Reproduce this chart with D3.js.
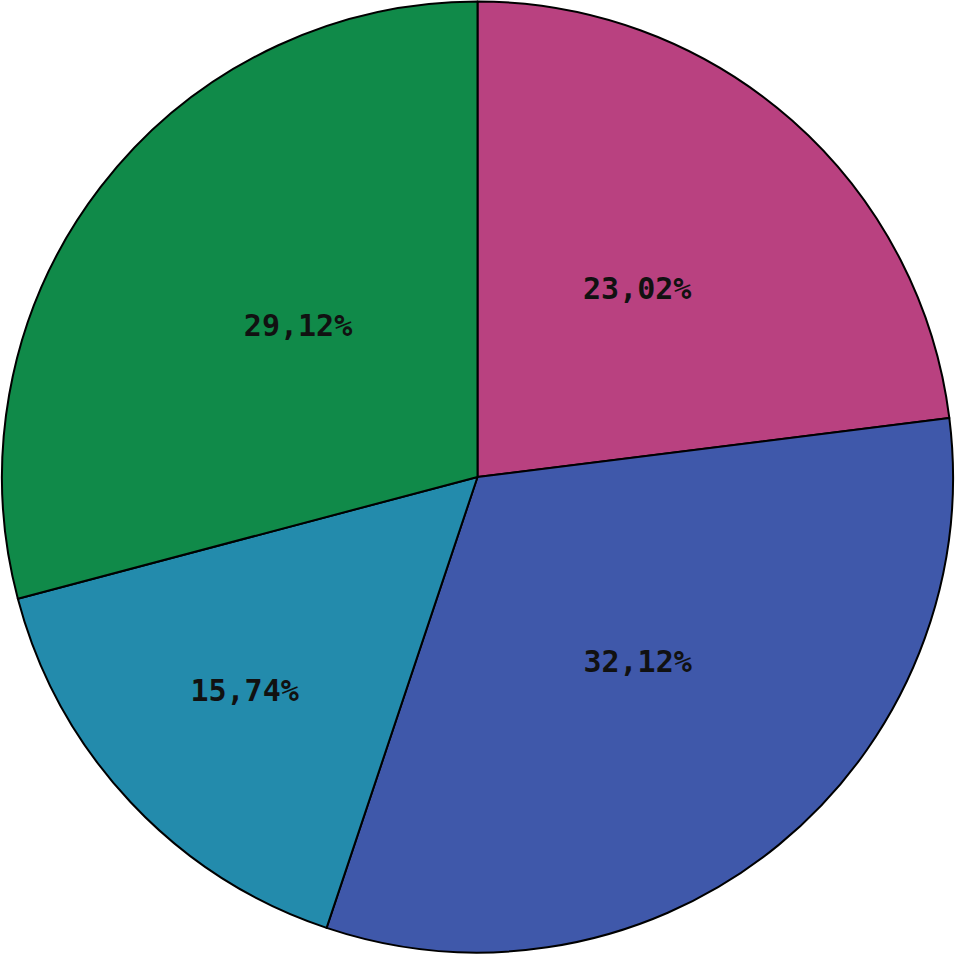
<!DOCTYPE html>
<html><head><meta charset="utf-8">
<script src="https://cdn.jsdelivr.net/npm/d3@7"></script>
<style>html,body{margin:0;padding:0;background:#fff;}</style>
</head><body>
<svg id="chart" width="957" height="956"></svg>
<script>
const categories = ["A", "B", "C", "D"];
const values = [23.02, 32.12, 15.74, 29.12];
const labels = ["23,02%", "32,12%", "15,74%", "29,12%"];
const colors = ["#B94180", "#3F58AA", "#238BAC", "#108A49"];
const labelRadiusFactor = [0.52, 0.513, 0.665, 0.494];
const labelAngleShiftDeg = [-1.2, -1.7, 0.6, 2.6];

const svg = d3.select("#chart");
const cx = 477.5, cy = 477, R = 475.5;
const g = svg.append("g").attr("transform", `translate(${cx},${cy})`);
const pie = d3.pie().sort(null).value(d => d)(values);
const arc = d3.arc().innerRadius(0).outerRadius(R);

g.selectAll("path").data(pie).enter().append("path")
  .attr("d", arc)
  .attr("fill", (d, i) => colors[i])
  .attr("stroke", "#000")
  .attr("stroke-width", 2)
  .attr("stroke-linejoin", "round");

g.selectAll("text").data(pie).enter().append("text")
  .attr("transform", (d, i) => {
    const a = (d.startAngle + d.endAngle) / 2 + labelAngleShiftDeg[i] * Math.PI / 180;
    const r = R * labelRadiusFactor[i];
    return `translate(${r * Math.sin(a)},${-r * Math.cos(a)})`;
  })
  .attr("text-anchor", "middle")
  .attr("dominant-baseline", "central")
  .attr("font-family", "DejaVu Sans Mono, monospace")
  .attr("font-size", 30)
  .attr("font-weight", "bold")
  .attr("fill", "#111")
  .text((d, i) => labels[i]);
</script>
</body></html>
